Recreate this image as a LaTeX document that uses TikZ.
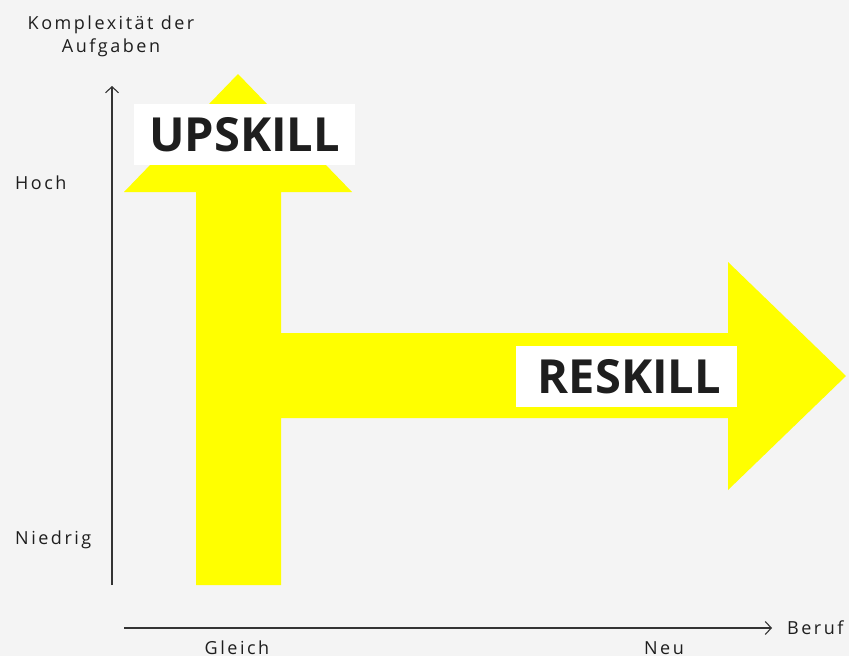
\documentclass[tikz,border=0pt]{standalone}
\usepackage{fontspec}
\setmainfont{Open Sans}
\newfontfamily\lblfont[LetterSpace=14]{Open Sans}
\usetikzlibrary{arrows.meta}
\definecolor{bg}{HTML}{F4F4F4}
\definecolor{ylw}{HTML}{FFFF00}
\definecolor{ink}{HTML}{1E1E1E}
\definecolor{axis}{HTML}{333333}
\tikzset{
  lbl/.style={font=\lblfont\fontsize{18}{23}\selectfont, text=ink, inner sep=0pt},
  tag/.style={fill=white, text=ink, font=\fontsize{47}{47}\selectfont\bfseries, minimum width=221pt, minimum height=61pt, inner sep=0pt},
  axisline/.style={draw=axis, line width=1.1pt, -{Straight Barb[length=6pt,width=13pt]}}
}
\begin{document}
\begin{tikzpicture}[x=1pt,y=-1pt]
\fill[bg] (0,0) rectangle (849,656);
\useasboundingbox (0,0) rectangle (849,656);
% big yellow arrow shape
\fill[ylw] (196,585) -- (196,192) -- (124,192) -- (238,74) -- (352,192) -- (281,192)
  -- (281,333) -- (728,333) -- (728,262) -- (846,376) -- (728,490) -- (728,418)
  -- (281,418) -- (281,585) -- cycle;
\node[tag] (up) at (244.5,134.5) {UPSKILL};
\node[tag] (re) at (626.5,376.5) {\hspace{6pt}RESKILL};
% axes
\coordinate (o1) at (112,585);
\coordinate (ytop) at (112,86);
\coordinate (o2) at (124,628);
\coordinate (xend) at (772,628);
\draw[axisline] (o1) -- (ytop);
\draw[axisline] (o2) -- (xend);
% labels
\node[lbl, align=center] (ylab) at (111,36) {Komplexität der\\Aufgaben};
\node[lbl, anchor=west] (hoch) at (15,183) {Hoch};
\node[lbl, anchor=west] (nied) at (15,540) {Niedrig};
\node[lbl] (gleich) at (237,648) {Gleich};
\node[lbl] (neu) at (664,648) {Neu};
\node[lbl, anchor=west] (beruf) at (787,628) {Beruf};
\end{tikzpicture}
\end{document}
